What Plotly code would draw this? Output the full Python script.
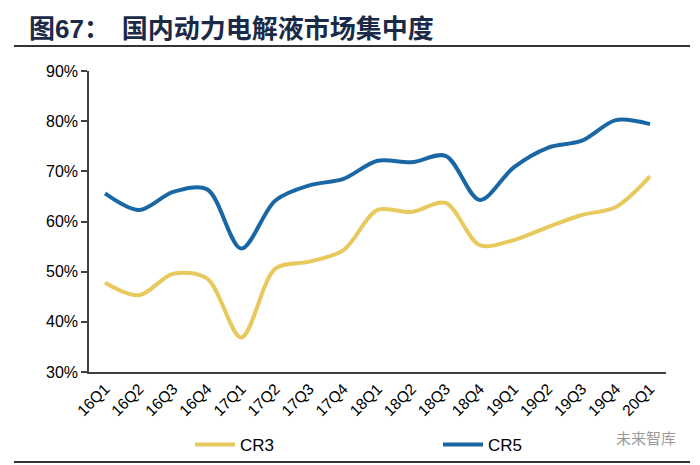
import plotly.graph_objects as go

quarters = ["16Q1", "16Q2", "16Q3", "16Q4", "17Q1", "17Q2", "17Q3", "17Q4",
            "18Q1", "18Q2", "18Q3", "18Q4", "19Q1", "19Q2", "19Q3", "19Q4", "20Q1"]
cr3 = [47.8, 45.3, 49.6, 48.6, 36.9, 50.6, 52.0, 54.3,
       62.3, 61.9, 63.7, 55.3, 56.3, 58.9, 61.3, 62.9, 69.0]
cr5 = [65.6, 62.3, 65.9, 66.4, 54.6, 64.2, 67.2, 68.5,
       72.1, 71.8, 73.1, 64.3, 70.8, 74.7, 76.1, 80.2, 79.4]
y_ticks = [30, 40, 50, 60, 70, 80, 90]
y_labels = [f"{v}%" for v in y_ticks]

D = 8  # page body margin offset
L, R, T, B = 89 - D, 666 - D, 71 - D, 372 - D
PW, PH = R - L, B - T


def px(x):
    return (x - D - L) / PW


def py(y):
    return (B - (y - D)) / PH


fig = go.Figure()
fig.add_trace(go.Scatter(x=quarters, y=cr3, name="CR3", mode="lines", legend="legend",
                         line=dict(color="#E8C95E", width=4, shape="spline", smoothing=0.9)))
fig.add_trace(go.Scatter(x=quarters, y=cr5, name="CR5", mode="lines", legend="legend2",
                         line=dict(color="#1A67A6", width=4, shape="spline", smoothing=0.9)))

leg_common = dict(orientation="h", xanchor="left", yanchor="middle",
                  font=dict(size=17, color="#000000"), bgcolor="rgba(0,0,0,0)",
                  itemwidth=40, tracegroupgap=0)

fig.update_layout(
    width=700, height=465,
    margin=dict(l=L, r=700 - R, t=T, b=465 - B, pad=0, autoexpand=False),
    paper_bgcolor="white", plot_bgcolor="white",
    font=dict(family="Liberation Sans, Arial, sans-serif", size=15, color="#000000"),
    showlegend=True,
    legend=dict(x=px(190), y=py(445), **leg_common),
    legend2=dict(x=px(438), y=py(445), **leg_common),
    xaxis=dict(type="category", range=[-0.47, 16.47], showgrid=False, automargin=False,
               showline=True, linecolor="#404040", linewidth=1.5,
               ticks="", tickangle=-45, tickfont=dict(size=15.5), zeroline=False),
    yaxis=dict(range=[30, 90], tickvals=y_ticks, ticktext=y_labels, showgrid=False,
               automargin=False,
               showline=True, linecolor="#404040", linewidth=1.5,
               ticks="outside", ticklen=6, tickcolor="#404040", tickwidth=1.5,
               tickfont=dict(size=16), zeroline=False),
)

# Title
fig.add_annotation(xref="paper", yref="paper", x=px(28), y=py(26),
                   xanchor="left", yanchor="middle", showarrow=False, borderpad=0,
                   text="<b>图<span style='font-family:Liberation Sans'>67</span>：  国内动力电解液市场集中度</b>",
                   font=dict(family="Noto Sans CJK SC", size=26, color="#1B2A47"))
# Title rule and bottom rule
fig.add_shape(type="line", xref="paper", yref="paper",
              x0=px(14), x1=px(690), y0=py(46), y1=py(46),
              line=dict(color="#333333", width=2))
fig.add_shape(type="line", xref="paper", yref="paper",
              x0=px(14), x1=px(690), y0=py(462), y1=py(462),
              line=dict(color="#333333", width=2))
# Watermark
fig.add_annotation(xref="paper", yref="paper", x=px(678), y=py(437),
                   xanchor="right", yanchor="middle", showarrow=False,
                   text="未来智库",
                   font=dict(family="Noto Sans CJK SC", size=15, color="#9a9a9a"))

fig.write_html("out.html")
